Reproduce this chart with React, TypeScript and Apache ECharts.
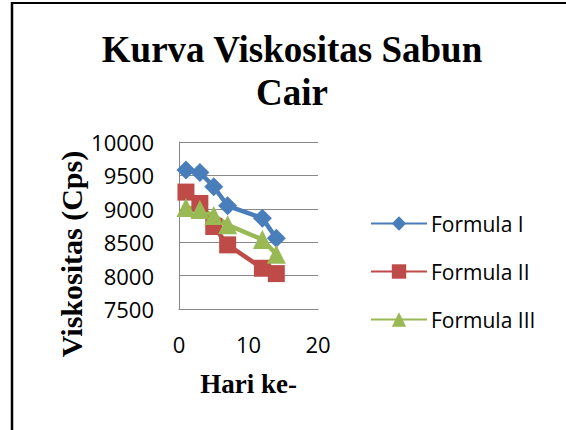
import React, { useEffect, useRef } from "react";
import * as echarts from "echarts";

const days = [1, 3, 5, 7, 12, 14];
const formula1 = [9580, 9545, 9330, 9045, 8860, 8560];
const formula2 = [9250, 9080, 8735, 8460, 8110, 8030];
const formula3 = [9020, 8990, 8900, 8760, 8540, 8320];
const seriesNames = ["Formula I", "Formula II", "Formula III"];
const colors = ["#4A7EBB", "#BE4B48", "#98B954"];
const symbols = ["diamond", "rect", "triangle"];
const symbolSizes = [19, 17, 19];

export default function App() {
  const ref = useRef<HTMLDivElement>(null);
  useEffect(() => {
    if (!ref.current) return;
    const chart = echarts.init(ref.current, null, { renderer: "svg" });
    const data = [formula1, formula2, formula3];
    chart.setOption({
      animation: false,
      backgroundColor: "#ffffff",
      title: {
        text: "Kurva Viskositas Sabun\nCair",
        left: 287,
        top: 23,
        textAlign: "center",
        textStyle: {
          fontFamily: "Liberation Serif",
          fontWeight: "bold",
          fontSize: 37,
          lineHeight: 43,
          color: "#000",
        },
      },
      graphic: [
        {
          type: "rect",
          shape: { x: 12, y: 3, width: 580, height: 440 },
          style: { fill: "none", stroke: "#000", lineWidth: 2 },
          silent: true,
        },
        {
          type: "line",
          shape: { x1: 12, y1: 2, x2: 12, y2: 430 },
          style: { stroke: "#000", lineWidth: 2.5 },
          silent: true,
        },
        {
          type: "text",
          x: 71,
          y: 254,
          rotation: Math.PI / 2,
          silent: true,
          style: {
            text: "Viskositas (Cps)",
            align: "center",
            verticalAlign: "middle",
            fontFamily: "Liberation Serif",
            fontWeight: "bold",
            fontSize: 30,
            fill: "#000",
          },
        },
      ],
      legend: {
        orient: "vertical",
        left: 365,
        top: 208,
        itemWidth: 56,
        itemHeight: 18,
        itemGap: 27,
        textStyle: { fontFamily: "Open Sans", fontSize: 21, color: "#000", padding: [0, 0, 0, -1] },
        data: seriesNames,
      },
      grid: { left: 179, right: 248, top: 142, bottom: 121 },
      xAxis: {
        type: "value",
        min: 0,
        max: 20,
        interval: 10,
        name: "Hari ke-",
        nameLocation: "middle",
        nameGap: 61,
        nameTextStyle: { fontFamily: "Liberation Serif", fontWeight: "bold", fontSize: 27, color: "#000" },
        axisLine: { show: true, lineStyle: { color: "#888", width: 1 } },
        axisTick: { show: false },
        splitLine: { show: false },
        axisLabel: { fontFamily: "Open Sans", fontSize: 22, color: "#000", margin: 24, formatter: (v: number) => String(v) },
      },
      yAxis: {
        type: "value",
        min: 7500,
        max: 10000,
        interval: 500,
        axisLine: { show: true, lineStyle: { color: "#888", width: 1 } },
        axisTick: { show: false },
        splitLine: { show: true, lineStyle: { color: "#888", width: 1 } },
        axisLabel: { fontFamily: "Open Sans", fontSize: 22, color: "#000", margin: 25, formatter: (v: number) => String(v) },
      },
      series: seriesNames.map((name, i) => ({
        name,
        type: "line",
        data: days.map((d, j) => [d, data[i][j]]),
        symbol: symbols[i],
        symbolSize: symbolSizes[i],
        color: colors[i],
        lineStyle: { color: colors[i], width: 4.5 },
        itemStyle: { color: colors[i] },
      })),
    });
    return () => chart.dispose();
  }, []);
  return <div ref={ref} style={{ position: "absolute", left: 0, top: 0, width: 566, height: 430 }} />;
}
